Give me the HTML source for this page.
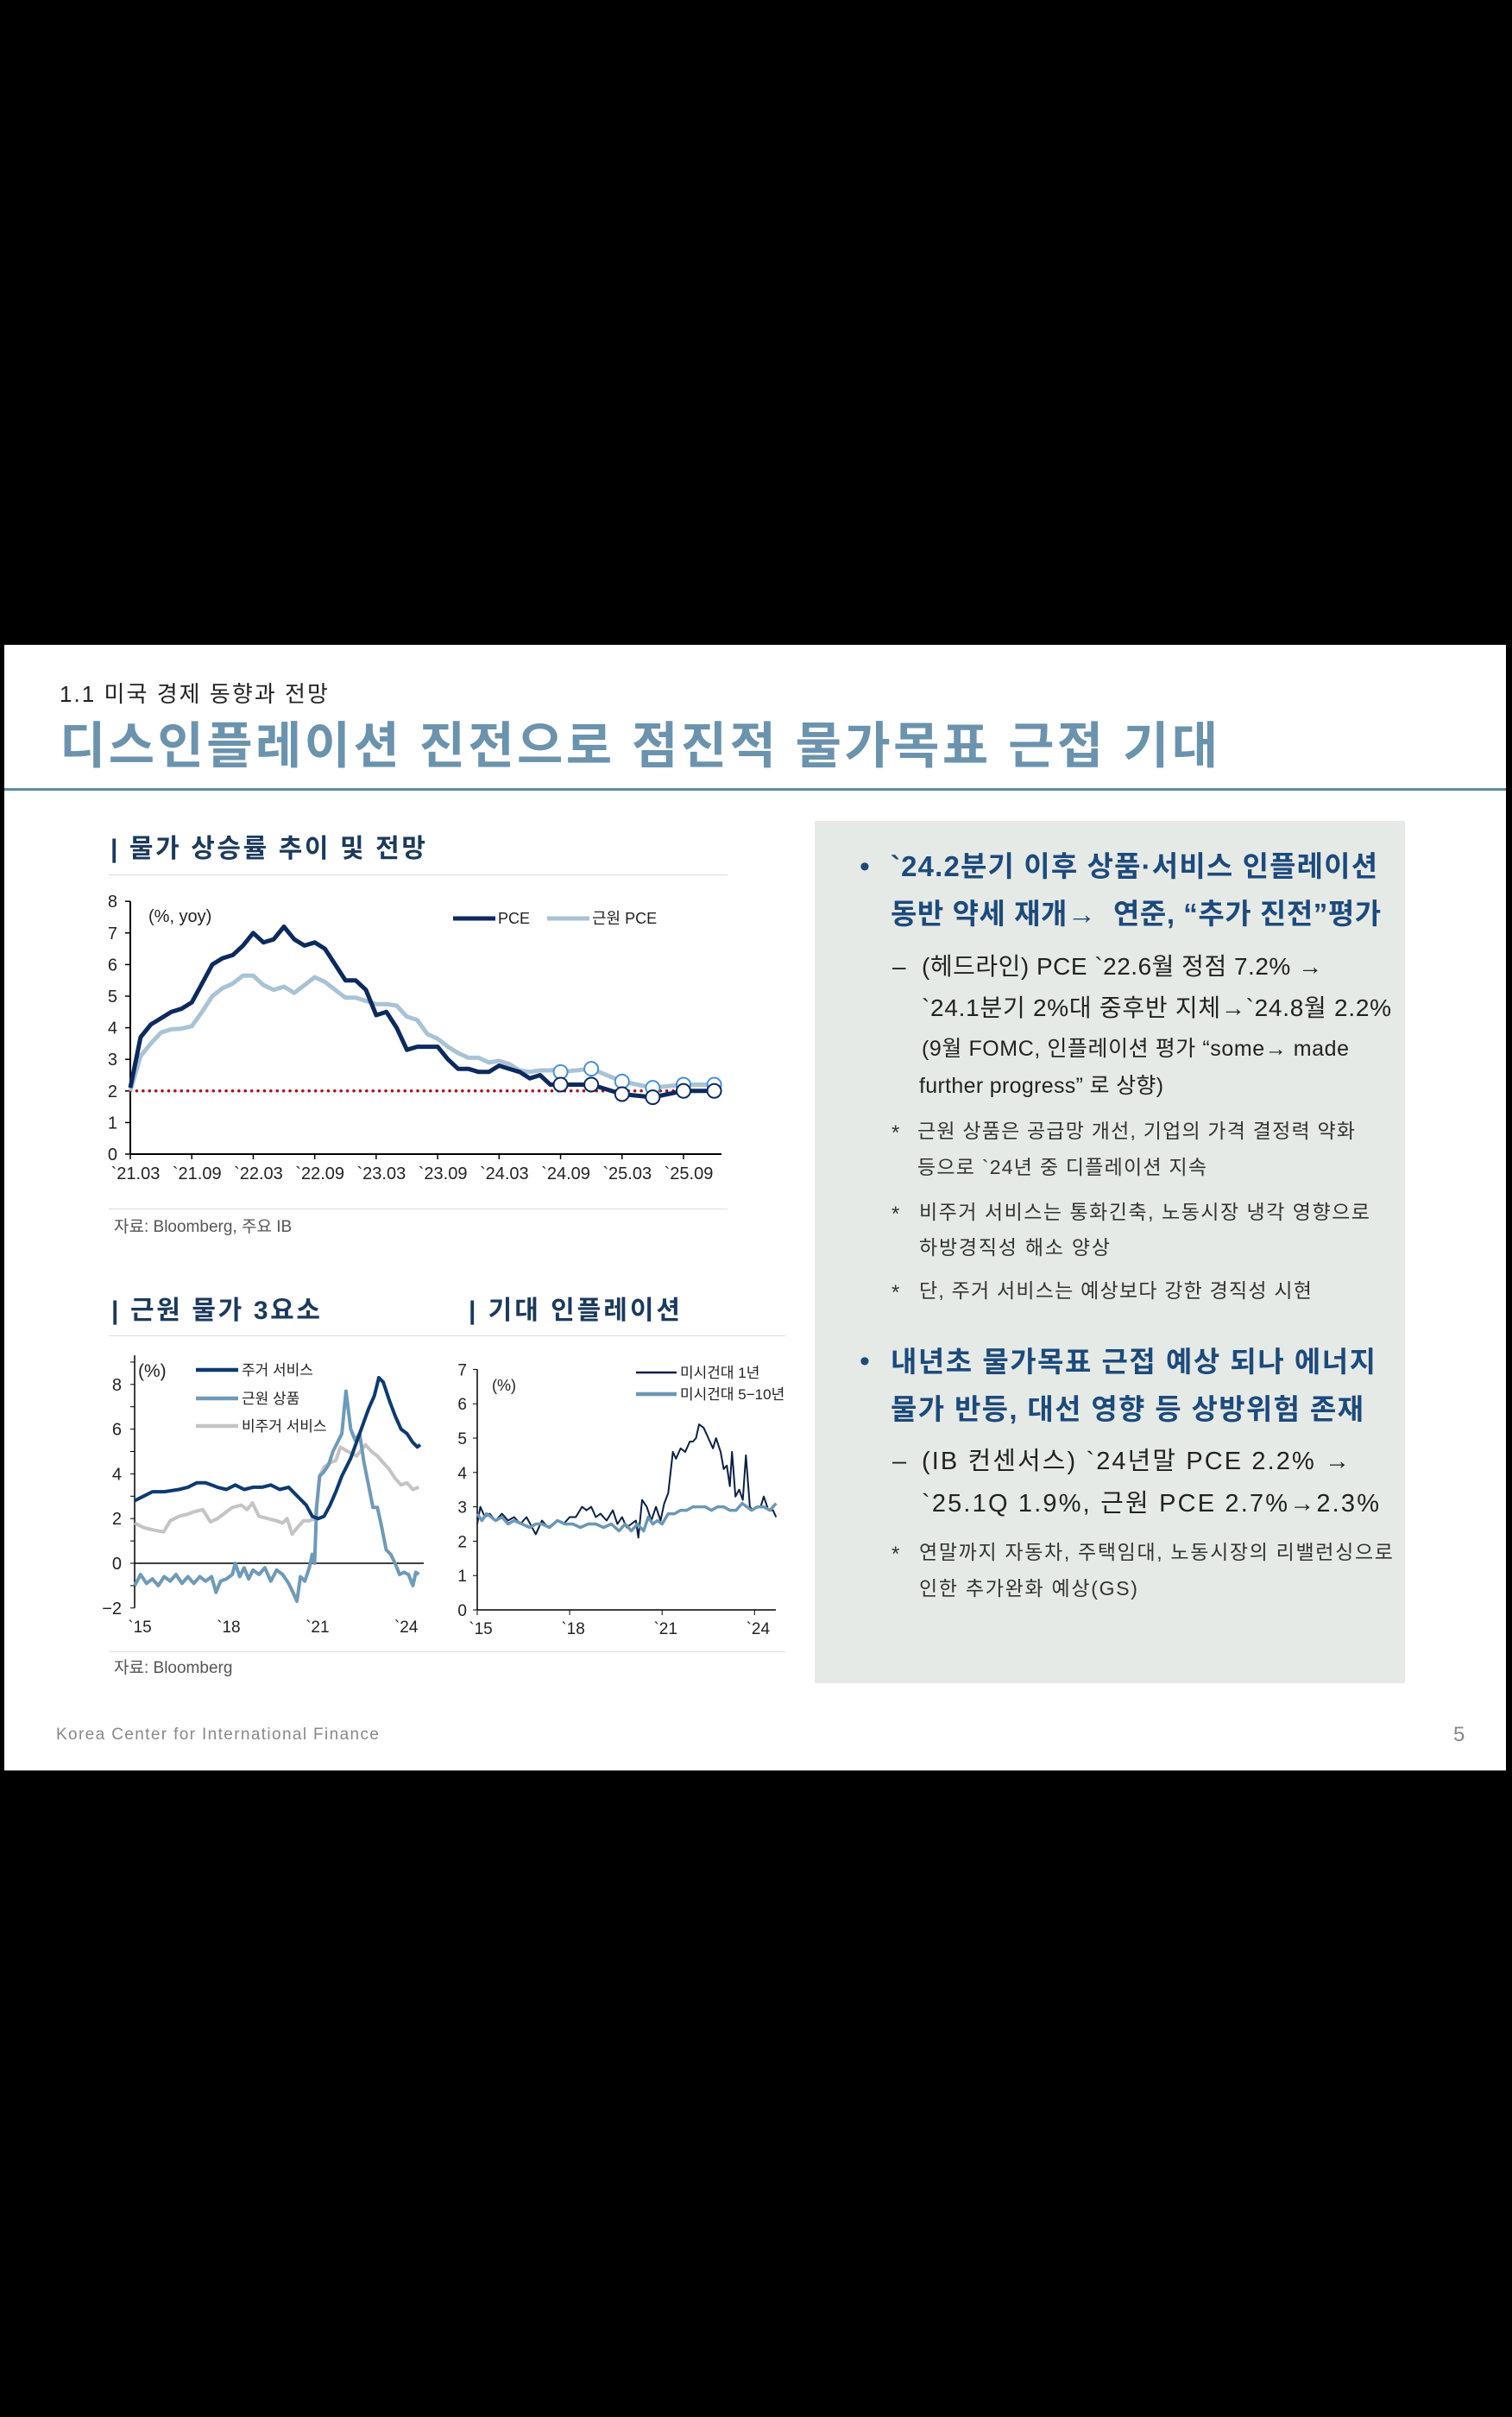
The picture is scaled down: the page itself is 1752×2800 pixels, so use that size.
<!DOCTYPE html>
<html lang="ko"><head><meta charset="utf-8">
<style>
html,body{margin:0;padding:0;background:#000;}
body{width:1752px;height:2800px;position:relative;overflow:hidden;font-family:"Liberation Sans","Noto Sans CJK KR",sans-serif;}
#slide{position:absolute;left:5px;top:747px;width:1740px;height:1304px;background:#fff;}
.t{position:absolute;white-space:nowrap;line-height:1;}
svg{position:absolute;left:0;top:0;}
</style></head>
<body>
<div id="slide"></div>
<div class="t" data-w="311" style="left:69px;top:791px;font-size:26px;color:#222;">1.1 미국 경제 동향과 전망</div>
<div class="t" data-w="1342" style="left:69px;top:836px;font-size:58px;font-weight:bold;color:#6b93ad;">디스인플레이션 진전으로 점진적 물가목표 근접 기대</div>
<div style="position:absolute;left:5px;top:913px;width:1740px;height:3px;background:#5e8aa5;"></div>

<div class="t" data-w="365" style="left:128px;top:969px;font-size:30px;font-weight:bold;color:#1b3a5c;">| 물가 상승률 추이 및 전망</div>
<div style="position:absolute;left:126px;top:1013px;width:717px;height:1px;background:#ddd;"></div>
<div style="position:absolute;left:126px;top:1400px;width:717px;height:1px;background:#ddd;"></div>
<div class="t" style="left:132px;top:1412px;font-size:19px;color:#555;">자료: Bloomberg, 주요 IB</div>

<div class="t" data-w="242" style="left:129px;top:1504px;font-size:30px;font-weight:bold;color:#1b3a5c;">| 근원 물가 3요소</div>
<div class="t" data-w="245" style="left:543px;top:1504px;font-size:30px;font-weight:bold;color:#1b3a5c;">| 기대 인플레이션</div>
<div style="position:absolute;left:126px;top:1547px;width:784px;height:1px;background:#ddd;"></div>
<div style="position:absolute;left:126px;top:1913px;width:784px;height:1px;background:#ddd;"></div>
<div class="t" style="left:132px;top:1923px;font-size:19px;color:#555;">자료: Bloomberg</div>

<div style="position:absolute;left:944px;top:951px;width:684px;height:999px;background:#e6eae6;"></div>
<div class="t" style="left:996px;top:987px;font-size:34px;color:#1d4a7c;">•</div>
<div class="t" data-w="564" style="left:1032px;top:987px;font-size:33px;font-weight:bold;color:#1d4a7c;">`24.2분기 이후 상품·서비스 인플레이션</div>
<div class="t" data-w="568" style="left:1032px;top:1042px;font-size:33px;font-weight:bold;color:#1d4a7c;">동반 약세 재개→ &nbsp;연준, “추가 진전”평가</div>
<div class="t" style="left:1034px;top:1106px;font-size:28px;color:#222;">–</div>
<div class="t" data-w="464" style="left:1068px;top:1106px;font-size:28px;color:#222;">(헤드라인) PCE `22.6월 정점 7.2% →</div>
<div class="t" data-w="544" style="left:1068px;top:1154px;font-size:28px;color:#222;">`24.1분기 2%대 중후반 지체→`24.8월 2.2%</div>
<div class="t" data-w="495" style="left:1068px;top:1203px;font-size:25px;color:#222;">(9월 FOMC, 인플레이션 평가 “some→ made</div>
<div class="t" data-w="283" style="left:1065px;top:1246px;font-size:25px;color:#222;">further progress” 로 상향)</div>
<div class="t" style="left:1033px;top:1301px;font-size:24px;color:#333;">*</div>
<div class="t" data-w="507" style="left:1063px;top:1299px;font-size:23px;color:#333;">근원 상품은 공급망 개선, 기업의 가격 결정력 약화</div>
<div class="t" data-w="335" style="left:1063px;top:1341px;font-size:23px;color:#333;">등으로 `24년 중 디플레이션 지속</div>
<div class="t" style="left:1033px;top:1395px;font-size:24px;color:#333;">*</div>
<div class="t" data-w="522" style="left:1065px;top:1393px;font-size:23px;color:#333;">비주거 서비스는 통화긴축, 노동시장 냉각 영향으로</div>
<div class="t" data-w="221" style="left:1065px;top:1434px;font-size:23px;color:#333;">하방경직성 해소 양상</div>
<div class="t" style="left:1033px;top:1486px;font-size:24px;color:#333;">*</div>
<div class="t" data-w="455" style="left:1065px;top:1484px;font-size:23px;color:#333;">단, 주거 서비스는 예상보다 강한 경직성 시현</div>
<div class="t" style="left:996px;top:1560px;font-size:34px;color:#1d4a7c;">•</div>
<div class="t" data-w="562" style="left:1032px;top:1561px;font-size:33px;font-weight:bold;color:#1d4a7c;">내년초 물가목표 근접 예상 되나 에너지</div>
<div class="t" data-w="548" style="left:1032px;top:1616px;font-size:33px;font-weight:bold;color:#1d4a7c;">물가 반등, 대선 영향 등 상방위험 존재</div>
<div class="t" style="left:1034px;top:1679px;font-size:29px;color:#222;">–</div>
<div class="t" data-w="496" style="left:1068px;top:1679px;font-size:29px;color:#222;">(IB 컨센서스) `24년말 PCE 2.2% →</div>
<div class="t" data-w="530" style="left:1068px;top:1728px;font-size:29px;color:#222;">`25.1Q 1.9%, 근원 PCE 2.7%→2.3%</div>
<div class="t" style="left:1033px;top:1789px;font-size:24px;color:#333;">*</div>
<div class="t" data-w="549" style="left:1065px;top:1787px;font-size:23px;color:#333;">연말까지 자동차, 주택임대, 노동시장의 리밸런싱으로</div>
<div class="t" data-w="253" style="left:1065px;top:1829px;font-size:23px;color:#333;">인한 추가완화 예상(GS)</div>

<div class="t" data-w="374" style="left:65px;top:2000px;font-size:19px;color:#888;">Korea Center for International Finance</div>
<div class="t" style="left:1684px;top:1998px;font-size:24px;color:#888;">5</div>

<svg id="charts" width="1752" height="2800" xmlns="http://www.w3.org/2000/svg"></svg>

<script>
// ---- Chart 1 data (monthly from 2021-03, index = months) ----
const pceMonths = [0,1,2,3,4,5,6,7,8,9,10,11,12,13,14,15,16,17,18,19,20,21,22,23,24,25,26,27,28,29,30,31,32,33,34,35,36,37,38,39,40,41,42];
const pceValues = [2.1,3.7,4.1,4.3,4.5,4.6,4.8,5.4,6.0,6.2,6.3,6.6,7.0,6.7,6.8,7.2,6.8,6.6,6.7,6.5,6.0,5.5,5.5,5.2,4.4,4.5,4.0,3.3,3.4,3.4,3.4,3.0,2.7,2.7,2.6,2.6,2.8,2.7,2.6,2.4,2.5,2.2,2.2];
const corePceValues = [2.0,3.1,3.5,3.85,3.95,3.97,4.05,4.5,5.0,5.25,5.4,5.65,5.65,5.35,5.2,5.3,5.1,5.35,5.6,5.45,5.2,4.95,4.95,4.85,4.75,4.75,4.7,4.35,4.25,3.8,3.65,3.4,3.2,3.05,3.05,2.9,2.95,2.85,2.65,2.6,2.65,2.65,2.7];
const fcMonths = [42,45,48,51,54,57];
const pceForecast = [2.2,2.2,1.9,1.8,2.0,2.0];
const corePceForecast = [2.6,2.7,2.3,2.1,2.2,2.2];
const target = 2;
const c1TickLabels = ["`21.03","`21.09","`22.03","`22.09","`23.03","`23.09","`24.03","`24.09","`25.03","`25.09"];
const c1YTicks = [0,1,2,3,4,5,6,7,8];

// ---- Chart 2 data (decimal years) ----
const shelterYears = [2015.0,2015.3,2015.6,2016.0,2016.5,2016.8,2017.1,2017.4,2017.8,2018.1,2018.4,2018.7,2019.0,2019.3,2019.6,2019.9,2020.2,2020.5,2020.8,2021.0,2021.2,2021.4,2021.6,2021.8,2022.0,2022.3,2022.6,2022.9,2023.1,2023.25,2023.4,2023.6,2023.8,2024.0,2024.2,2024.4,2024.55,2024.65];
const shelterValues = [2.8,3.0,3.2,3.2,3.3,3.4,3.6,3.6,3.4,3.3,3.5,3.3,3.4,3.4,3.5,3.3,3.4,3.0,2.6,2.1,2.0,2.1,2.6,3.2,3.9,4.7,5.8,6.9,7.5,8.3,8.1,7.3,6.6,6.0,5.8,5.4,5.2,5.3];
const goodsYears = [2015.0,2015.2,2015.4,2015.6,2015.8,2016.0,2016.2,2016.4,2016.6,2016.8,2017.0,2017.2,2017.4,2017.6,2017.75,2017.9,2018.1,2018.3,2018.4,2018.55,2018.7,2018.85,2019.0,2019.2,2019.4,2019.6,2019.8,2020.0,2020.2,2020.35,2020.48,2020.6,2020.75,2020.9,2021.0,2021.08,2021.15,2021.25,2021.4,2021.55,2021.7,2021.85,2022.0,2022.14,2022.3,2022.45,2022.6,2022.75,2022.9,2023.05,2023.2,2023.35,2023.5,2023.65,2023.8,2023.95,2024.1,2024.25,2024.4,2024.5,2024.6];
const goodsValues = [-1.0,-0.5,-0.9,-0.7,-1.0,-0.6,-0.8,-0.5,-0.9,-0.6,-0.9,-0.6,-0.8,-0.6,-1.3,-0.8,-0.7,-0.5,0.0,-0.6,-0.2,-0.7,-0.3,-0.5,-0.2,-0.8,-0.3,-0.5,-0.9,-1.3,-1.7,-0.6,-0.8,-0.2,0.4,0.0,2.5,3.9,4.1,4.4,5.0,5.4,5.8,7.7,6.0,5.5,5.8,4.5,3.5,2.5,2.5,1.6,0.6,0.4,0.0,-0.5,-0.4,-0.5,-1.0,-0.4,-0.5];
const nonHousingYears = [2015.0,2015.3,2015.6,2015.98,2016.2,2016.5,2016.8,2017.0,2017.3,2017.56,2017.8,2018.0,2018.3,2018.6,2018.8,2018.98,2019.2,2019.5,2019.8,2020.0,2020.15,2020.32,2020.5,2020.7,2020.9,2021.1,2021.25,2021.4,2021.6,2021.8,2021.95,2022.2,2022.5,2022.8,2023.0,2023.2,2023.4,2023.6,2023.8,2024.0,2024.2,2024.4,2024.6];
const nonHousingValues = [1.8,1.6,1.5,1.4,1.9,2.1,2.2,2.3,2.4,1.85,2.0,2.2,2.5,2.6,2.4,2.7,2.1,2.0,1.9,1.8,2.0,1.3,1.6,1.9,1.9,2.0,3.9,4.3,4.5,4.6,5.2,5.0,4.8,5.3,5.0,4.8,4.5,4.2,3.8,3.5,3.6,3.3,3.4];
const c2YLabels = [8,6,4,2,0,-2];
const c2XLabels = ["`15","`18","`21","`24"];
const c2XYears = [2015,2018,2021,2024];

// ---- Chart 3 data ----
const umichYears = [2015.0,2015.1,2015.25,2015.4,2015.6,2015.8,2016.0,2016.2,2016.4,2016.6,2016.9,2017.1,2017.3,2017.6,2017.8,2018.0,2018.2,2018.4,2018.55,2018.7,2018.85,2019.0,2019.2,2019.4,2019.55,2019.7,2019.85,2020.0,2020.15,2020.23,2020.35,2020.5,2020.65,2020.8,2020.95,2021.07,2021.2,2021.35,2021.45,2021.6,2021.75,2021.9,2022.0,2022.1,2022.2,2022.35,2022.5,2022.65,2022.75,2022.9,2023.0,2023.1,2023.2,2023.27,2023.38,2023.5,2023.62,2023.72,2023.85,2023.95,2024.05,2024.2,2024.3,2024.45,2024.6,2024.7];
const umichValues = [2.5,3.0,2.7,2.8,2.6,2.8,2.6,2.7,2.5,2.7,2.2,2.6,2.4,2.6,2.5,2.7,2.7,3.0,2.9,3.0,2.7,2.8,2.6,2.9,2.5,2.7,2.4,2.5,2.6,2.1,3.2,3.0,2.6,3.0,2.6,3.1,3.4,4.6,4.4,4.7,4.6,4.9,4.9,5.0,5.4,5.3,5.0,4.7,5.0,4.6,4.1,4.2,3.6,4.6,3.3,3.5,3.2,4.5,3.0,2.9,3.0,3.0,3.3,2.9,2.9,2.7];
const longYears = [2015.0,2015.15,2015.3,2015.45,2015.6,2015.8,2016.0,2016.2,2016.45,2016.7,2016.9,2017.1,2017.35,2017.6,2017.85,2018.1,2018.35,2018.6,2018.85,2019.1,2019.35,2019.6,2019.8,2020.0,2020.2,2020.4,2020.55,2020.7,2020.85,2021.0,2021.2,2021.4,2021.6,2021.8,2022.0,2022.2,2022.4,2022.6,2022.8,2023.0,2023.2,2023.4,2023.6,2023.75,2023.9,2024.1,2024.3,2024.5,2024.7];
const longValues = [2.8,2.6,2.8,2.7,2.6,2.7,2.5,2.6,2.5,2.4,2.5,2.5,2.4,2.6,2.5,2.5,2.4,2.5,2.5,2.4,2.5,2.3,2.5,2.3,2.5,2.3,2.7,2.5,2.6,2.5,2.8,2.8,2.9,2.9,3.0,3.0,3.0,2.9,3.0,3.0,2.9,2.9,3.1,3.0,2.9,3.0,3.0,2.9,3.1];
const c3YTicks = [0,1,2,3,4,5,6,7];

const NS = "http://www.w3.org/2000/svg";
const svg = document.getElementById('charts');
function el(tag, attrs, parent){ const e=document.createElementNS(NS,tag); for(const k in attrs) e.setAttribute(k,attrs[k]); (parent||svg).appendChild(e); return e; }
function txt(s, attrs){ const e=el('text',attrs); e.textContent=s; return e; }
function path(xs, ys, fx, fy){ return xs.map((x,i)=>(i?'L':'M')+fx(x).toFixed(1)+','+fy(ys[i]).toFixed(1)).join(' '); }
const FONT = '"Liberation Sans","Noto Sans CJK KR",sans-serif';

// ===== Chart 1 =====
const x1 = m => 151 + m*11.87;
const y1 = v => 1337 - v*36.6;
let g = el('g',{});


el('line',{x1:151,y1:y1(8),x2:151,y2:y1(0),stroke:'#000','stroke-width':2},g);
el('line',{x1:151,y1:y1(0),x2:836,y2:y1(0),stroke:'#000','stroke-width':2},g);
c1YTicks.forEach(v=>{
  el('line',{x1:145,y1:y1(v),x2:151,y2:y1(v),stroke:'#000','stroke-width':1.5},g);
  const t=txt(String(v),{x:136,y:y1(v)+7,'font-size':20,'text-anchor':'end','font-family':FONT,fill:'#222'});
  
  
});
c1TickLabels.forEach((s,i)=>{
  const m=i*6;
  el('line',{x1:x1(m),y1:y1(0),x2:x1(m),y2:y1(0)+6,stroke:'#000','stroke-width':1.5},g);
  const t=txt(s,{x:x1(m)+6,y:1366,'font-size':20,'text-anchor':'middle','font-family':FONT,fill:'#222'});
  
  
});
let t1=txt('(%, yoy)',{x:172,y:1068,'font-size':20,'font-family':FONT,fill:'#222'});


let tl=el('line',{x1:151,y1:y1(target),x2:829,y2:y1(target),stroke:'#a8101e','stroke-width':3.5,'stroke-dasharray':'0.1 7.3','stroke-linecap':'round'});


let cp=el('path',{d:path(pceMonths,corePceValues,x1,y1)+' '+path(fcMonths,corePceForecast,x1,y1).replace('M','L'),fill:'none',stroke:'#a9c3d5','stroke-width':5,'stroke-linejoin':'round'});


let pp=el('path',{d:path(pceMonths,pceValues,x1,y1)+' '+path(fcMonths,pceForecast,x1,y1).replace('M','L'),fill:'none',stroke:'#0c2a5e','stroke-width':5,'stroke-linejoin':'round'});


fcMonths.forEach((m,i)=>{
  const c=el('circle',{cx:x1(m),cy:y1(corePceForecast[i]),r:8,fill:'#fff',stroke:'#4a90d9','stroke-width':2});
  
  
});
fcMonths.forEach((m,i)=>{
  const c=el('circle',{cx:x1(m),cy:y1(pceForecast[i]),r:8,fill:'#fff',stroke:'#0c2a5e','stroke-width':2});
  
  
});
let lg=el('g',{});


el('line',{x1:525,y1:1064,x2:574,y2:1064,stroke:'#0c2a5e','stroke-width':5},lg);
el('text',{x:577,y:1070,'font-size':18,'font-family':FONT,fill:'#222'},lg).textContent='PCE';
el('line',{x1:634,y1:1064,x2:683,y2:1064,stroke:'#a9c3d5','stroke-width':5},lg);
el('text',{x:686,y:1070,'font-size':18,'font-family':FONT,fill:'#222'},lg).textContent='근원 PCE';

// ===== Chart 2 =====
const x2 = yr => 156 + (yr-2015)*34.3;
const y2 = v => 1811 - v*25.9;
let g2=el('g',{});


el('line',{x1:156,y1:y2(9.3),x2:156,y2:y2(-2),stroke:'#000','stroke-width':1.5},g2);
for(let v=-2;v<=9;v++) el('line',{x1:151,y1:y2(v),x2:156,y2:y2(v),stroke:'#000','stroke-width':1},g2);
el('line',{x1:156,y1:y2(0),x2:491,y2:y2(0),stroke:'#000','stroke-width':1.5},g2);
c2YLabels.forEach(v=>{
  const t=txt(v<0?'−'+Math.abs(v):String(v),{x:141,y:y2(v)+7,'font-size':20,'text-anchor':'end','font-family':FONT,fill:'#222'});
  
  
});
c2XLabels.forEach((s,i)=>{
  const t=txt(s,{x:x2(c2XYears[i])+6,y:1891,'font-size':19,'text-anchor':'middle','font-family':FONT,fill:'#222'});
  
  
});
let u2=txt('(%)',{x:160,y:1595,'font-size':21,'font-family':FONT,fill:'#222'});


let nh=el('path',{d:path(nonHousingYears,nonHousingValues,x2,y2),fill:'none',stroke:'#c4c4c4','stroke-width':4,'stroke-linejoin':'round'});


let gd=el('path',{d:path(goodsYears,goodsValues,x2,y2),fill:'none',stroke:'#6f9ab8','stroke-width':4,'stroke-linejoin':'round'});


let sh=el('path',{d:path(shelterYears,shelterValues,x2,y2),fill:'none',stroke:'#0d3a70','stroke-width':4,'stroke-linejoin':'round'});


let lg2=el('g',{});


[['주거 서비스','#0d3a70',1587],['근원 상품','#6f9ab8',1620],['비주거 서비스','#c4c4c4',1652]].forEach(r=>{
  el('line',{x1:227,y1:r[2],x2:276,y2:r[2],stroke:r[1],'stroke-width':4.5},lg2);
  el('text',{x:280,y:r[2]+6,'font-size':17,'font-family':FONT,fill:'#222'},lg2).textContent=r[0];
});

// ===== Chart 3 =====
const x3 = yr => 553 + (yr-2015)*35.7;
const y3 = v => 1865 - v*39.8;
let g3=el('g',{});


el('line',{x1:553,y1:y3(7),x2:553,y2:y3(0),stroke:'#000','stroke-width':1.5},g3);
el('line',{x1:553,y1:y3(0),x2:899,y2:y3(0),stroke:'#000','stroke-width':1.5},g3);
c3YTicks.forEach(v=>{
  el('line',{x1:548,y1:y3(v),x2:553,y2:y3(v),stroke:'#000','stroke-width':1},g3);
  const t=txt(String(v),{x:541,y:y3(v)+7,'font-size':19,'text-anchor':'end','font-family':FONT,fill:'#222'});
  
  
});
c2XLabels.forEach((s,i)=>{
  el('line',{x1:x3(c2XYears[i]),y1:y3(0),x2:x3(c2XYears[i]),y2:y3(0)+6,stroke:'#000','stroke-width':1},g3);
  const t=txt(s,{x:x3(c2XYears[i])+4,y:1893,'font-size':19,'text-anchor':'middle','font-family':FONT,fill:'#222'});
  
  
});
let u3=txt('(%)',{x:570,y:1611,'font-size':18,'font-family':FONT,fill:'#222'});


let um=el('path',{d:path(umichYears,umichValues,x3,y3),fill:'none',stroke:'#0b1f44','stroke-width':2,'stroke-linejoin':'round'});


let ul=el('path',{d:path(longYears,longValues,x3,y3),fill:'none',stroke:'#6b97b5','stroke-width':3.5,'stroke-linejoin':'round'});


let lg3=el('g',{});


el('line',{x1:737,y1:1590,x2:784,y2:1590,stroke:'#0b1f44','stroke-width':2.5},lg3);
el('text',{x:788,y:1596,'font-size':17,'font-family':FONT,fill:'#222'},lg3).textContent='미시건대 1년';
el('line',{x1:737,y1:1615,x2:784,y2:1615,stroke:'#6b97b5','stroke-width':4.5},lg3);
el('text',{x:788,y:1621,'font-size':17,'font-family':FONT,fill:'#222'},lg3).textContent='미시건대 5−10년';

// ===== fit text lines to measured widths =====
document.querySelectorAll('[data-w]').forEach(d=>{
  const target=+d.getAttribute('data-w');
  const w=d.getBoundingClientRect().width;
  const n=d.textContent.length;
  if(n>1){ d.style.letterSpacing=((target-w)/(n-1)).toFixed(2)+'px'; }
});
</script>
</body></html>
